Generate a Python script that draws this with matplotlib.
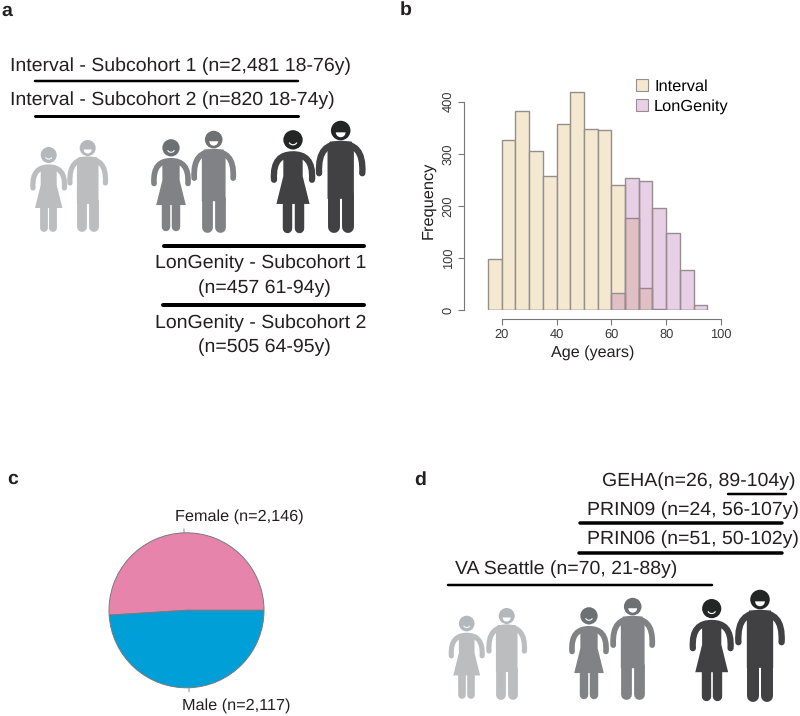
import numpy as np
import matplotlib
matplotlib.use("Agg")
import matplotlib.pyplot as plt
from matplotlib.patches import Circle, PathPatch, Polygon, Wedge
from matplotlib.path import Path

plt.rcParams['font.family'] = ['Liberation Sans', 'DejaVu Sans']
plt.rcParams['text.hinting'] = 'no_hinting'
plt.rcParams['text.hinting_factor'] = 8

# histogram data (panel b), 5 year bins
bin_edges = [15, 20, 25, 30, 35, 40, 45, 50, 55, 60, 65, 70, 75, 80, 85, 90, 95]
interval_counts = [97, 326, 383, 306, 258, 358, 418, 347, 345, 240, 177, 43, 2, 0, 0, 0]
longenity_counts = [0, 0, 0, 0, 0, 0, 0, 0, 0, 32, 253, 247, 195, 148, 77, 10]
age_ticks = [20, 40, 60, 80, 100]
freq_ticks = [0, 100, 200, 300, 400]

# pie data (panel c), shares as drawn in the picture, slightly off the labelled n's
sex_labels = ["Female (n=2,146)", "Male (n=2,117)"]
sex_shares = [51, 49]
sex_colors = ["#E784AB", "#009FD8"]

W, H = 800, 716
fig = plt.figure(figsize=(W / 100, H / 100), dpi=100)

# everything that is not a plot gets drawn in pixel coordinates
bg = fig.add_axes([0, 0, 1, 1])
bg.set_xlim(0, W)
bg.set_ylim(H, 0)
bg.axis("off")

LIGHT = ("#b4b8bc", "#bcbdbf")
MID = ("#6d7174", "#808285")
DARK = ("#242626", "#414042")


def px_lw(px):
    return px * 0.72


def arms(cx, feet, s, xe, ye, xt, yt, color):
    # shoulder arc with round ends
    p = [(-xe, ye), (-xe - 1, yt - 5), (-xt, yt), (0, yt), (xt, yt), (xe + 1, yt - 5), (xe, ye)]
    verts = [(cx + x * s, feet - y * s) for x, y in p]
    codes = [Path.MOVETO] + [Path.CURVE4] * 6
    bg.add_patch(PathPatch(Path(verts, codes), fill=False, ec=color, lw=px_lw(5.2 * s), capstyle="round"))


def legs(cx, feet, s, off, top, width, color):
    for sign in (-1, 1):
        x = cx + sign * off * s
        bg.plot([x, x], [feet - top * s, feet - width / 2 * s], color=color, lw=px_lw(width * s),
                solid_capstyle="round")


def woman(cx, feet, s, shade):
    head, body = shade
    arms(cx, feet, s, 15.7, 44, 10, 65, body)
    dress = [(-8, 65), (8, 65), (8, 47), (13.7, 24), (-13.7, 24), (-8, 47)]
    bg.add_patch(Polygon([(cx + x * s, feet - y * s) for x, y in dress], fc=body, ec="none"))
    legs(cx, feet, s, 4.6, 26, 7.8, body)
    bg.add_patch(Circle((cx, feet - 77 * s), 8 * s, fc=head, ec="none"))
    t = np.linspace(0.15, 0.85, 12) * np.pi
    bg.plot(cx + 3.2 * s * np.cos(t), feet - 75.5 * s + 2.6 * s * np.sin(t), color="white", lw=px_lw(1.0 * s))


def man(cx, feet, s, shade):
    head, body = shade
    arms(cx, feet, s, 17.7, 49, 11, 73, body)
    bg.add_patch(Polygon([(cx + x * s, feet - y * s) for x, y in
                          [(-9, 75), (9, 75), (10.8, 68), (10.8, 28), (-10.8, 28), (-10.8, 68)]], fc=body, ec="none"))
    legs(cx, feet, s, 5.8, 30, 9.8, body)
    bg.add_patch(Circle((cx, feet - 84 * s), 8 * s, fc=head, ec="none"))
    bg.add_patch(Wedge((cx, feet - 82.5 * s), 4 * s, 0, 180, fc="white", ec="none"))


def rule(x0, x1, y, width):
    bg.plot([x0, x1], [y, y], color="black", lw=px_lw(width), solid_capstyle="round")


def label(x, y, txt, size=14.0, ha="left"):
    # the +1 evens out the descent that va=center reserves
    bg.text(x, y + 1, txt, fontsize=size, ha=ha, va="center", color="#231f20")


# panel letters
for letter, x, y in [("a", 1, 11), ("b", 400, 10), ("c", 7, 479), ("d", 414, 480)]:
    bg.text(x, y, letter, fontsize=14, fontweight="bold", ha="left", va="center", color="#231f20")

# panel a
label(10, 65, "Interval - Subcohort 1 (n=2,481 18-76y)")
rule(35, 298, 81, 2.5)
label(10, 99, "Interval - Subcohort 2 (n=820 18-74y)")
rule(35, 298, 115.7, 3)
woman(48.7, 232, 1.0, LIGHT)
man(87.7, 232, 1.0, LIGHT)
woman(171, 231, 1.08, MID)
man(213.7, 232, 1.1, MID)
woman(293, 233, 1.21, DARK)
man(340.7, 233, 1.22, DARK)
rule(164, 364, 246, 4)
label(260.5, 262, "LonGenity - Subcohort 1", ha="center")
label(264, 287, "(n=457 61-94y)", ha="center")
rule(163, 364, 305, 4)
label(261, 322, "LonGenity - Subcohort 2", ha="center")
label(264, 346, "(n=505 64-95y)", ha="center")

# panel d
label(795, 480, "GEHA(n=26, 89-104y)", ha="right")
rule(728, 786, 494, 2.5)
label(799, 509, "PRIN09 (n=24, 56-107y)", ha="right")
rule(580, 782, 523, 3.5)
label(799, 538, "PRIN06 (n=51, 50-102y)", ha="right")
rule(579, 782, 553, 3.5)
label(455, 568, "VA Seattle (n=70, 21-88y)")
rule(448, 712, 585, 2.5)
woman(466.7, 699, 0.98, LIGHT)
man(506.7, 700, 1.0, LIGHT)
woman(589, 699, 1.08, MID)
man(632.7, 699, 1.1, MID)
woman(711.7, 701, 1.2, DARK)
man(760, 702, 1.22, DARK)

# panel b, axes box placed so the R style detached axes land where they should
ax = fig.add_axes([464 / W, 1 - 310 / H, (721 - 464) / W, (310 - 91.3) / H])
ax.set_xlim(6.25, 100)
ax.set_ylim(0, 420)
ax.patch.set_alpha(0)
widths = np.diff(bin_edges)
ax.bar(bin_edges[:-1], interval_counts, width=widths, align="edge", color="#f5e8d0", edgecolor="#948e8c", linewidth=1.0)
ax.bar(bin_edges[:-1], longenity_counts, width=widths, align="edge", color=(178 / 255, 98 / 255, 172 / 255, 0.3),
       edgecolor="#948e8c", linewidth=1.0)
for side in ("top", "right"):
    ax.spines[side].set_visible(False)
ax.spines["bottom"].set_position(("outward", 6.7))
ax.spines["bottom"].set_bounds(20, 100)
ax.spines["left"].set_bounds(0, 400)
for side in ("bottom", "left"):
    ax.spines[side].set_color("#77777a")
    ax.spines[side].set_linewidth(0.8)
ax.set_xticks(age_ticks)
ax.set_yticks(freq_ticks)
ax.tick_params(axis="both", length=4, width=0.8, color="#77777a", labelsize=9.3, labelcolor="#3a3a3c")
ax.tick_params(axis="x", pad=2.4)
ax.tick_params(axis="y", labelrotation=90, pad=3)
for t in ax.get_yticklabels():
    t.set_va("center")
ax.set_xlabel("Age (years)", fontsize=11.6, color="#231f20", labelpad=3.5)
ax.set_ylabel("Frequency", fontsize=11.8, color="#231f20", labelpad=4.5)

# legend as plain squares, the R one has no frame
handles = [plt.Rectangle((0, 0), 1, 1, fc="#f5e8d0", ec="#948e8c", lw=0.8),
           plt.Rectangle((0, 0), 1, 1, fc="#e8d0e6", ec="#948e8c", lw=0.8)]
fig.legend(handles, ["Interval", "LonGenity"], loc="upper left", bbox_to_anchor=(636 / W, 1 - 79 / H), frameon=False,
           fontsize=11.8, handlelength=0.72, handleheight=0.72, handletextpad=0.38, labelspacing=0.3, borderpad=0,
           borderaxespad=0)

# panel c
cx, cy, r = 186.5, 610.3, 77.5
pie_ax = fig.add_axes([(cx - r - 5) / W, 1 - (cy + r + 5) / H, (2 * r + 10) / W, (2 * r + 10) / H])
wedges, _ = pie_ax.pie(sex_shares, colors=sex_colors, startangle=0, counterclock=True, radius=1.0,
                       wedgeprops=dict(edgecolor="#7a7a7c", linewidth=0.7))
pie_ax.set_xlim(-1 - 5 / r, 1 + 5 / r)
pie_ax.set_ylim(-1 - 5 / r, 1 + 5 / r)
# small R style ticks at the middle of each slice
for w in wedges:
    mid = np.deg2rad((w.theta1 + w.theta2) / 2)
    pie_ax.plot([np.cos(mid), 1.05 * np.cos(mid)], [np.sin(mid), 1.05 * np.sin(mid)], color="#8a8a8c", lw=0.7,
                clip_on=False)
label(239, 516, sex_labels[0], size=11.7, ha="center")
label(236.5, 704.5, sex_labels[1], size=11.7, ha="center")

fig.savefig("out.png", dpi=100, facecolor="white")
